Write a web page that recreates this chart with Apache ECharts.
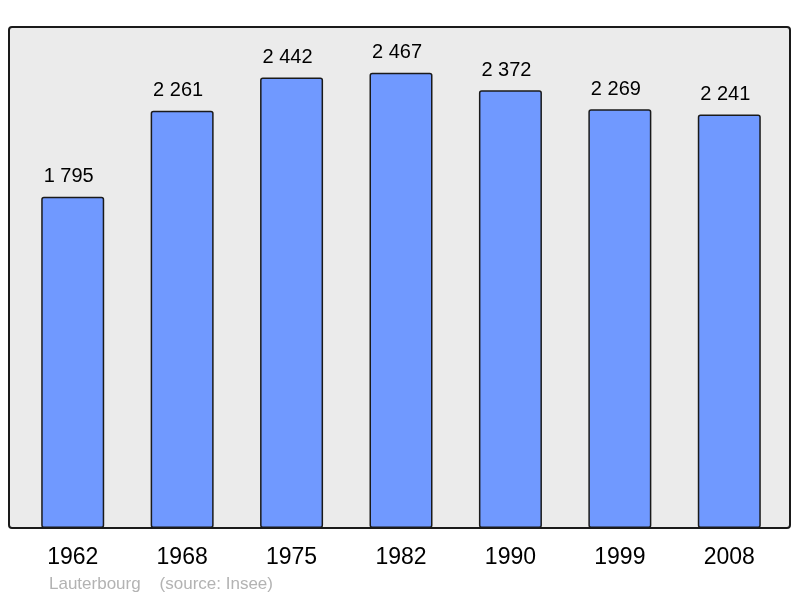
<!DOCTYPE html>
<html><head><meta charset="utf-8">
<script src="https://cdn.jsdelivr.net/npm/echarts@6/dist/echarts.min.js"></script>
<style>html,body{margin:0;padding:0;background:#fff}#c{width:800px;height:598px}</style>
</head><body><div id="c"></div>
<script>
const years = ['1962','1968','1975','1982','1990','1999','2008'];
const population = [1795, 2261, 2442, 2467, 2372, 2269, 2241];
const fmt = v => String(v).replace(/\B(?=(\d{3})+(?!\d))/g, ' ');
const chart = echarts.init(document.getElementById('c'));
chart.setOption({
  animation: false,
  backgroundColor: '#ffffff',
  graphic: [
    {type:'rect', z:-10, shape:{x:9,y:27,width:781,height:501,r:3},
     style:{fill:'#ebebeb', stroke:'#1a1a1a', lineWidth:2}},
    {type:'text', left:49, top:576, style:{text:'Lauterbourg    (source: Insee)', fill:'#b3b3b3', font:'17px "Liberation Sans", Arial, sans-serif'}}
  ],
  grid: {left:18, right:16, top:27, bottom:70},
  xAxis: {type:'category', data: years, axisLine:{show:false}, axisTick:{show:false},
    axisLabel:{color:'#000', fontSize:23, fontFamily:'"Liberation Sans", Arial, sans-serif', margin:18}},
  yAxis: {type:'value', min:0, max:2715, show:false, splitLine:{show:false}},
  series: [{
    type:'bar', data: population, barWidth:63,
    itemStyle:{color:'#7099ff', borderColor:'#1a1a1a', borderWidth:1.5, borderRadius:2},
    label:{show:true, position:'top', distance:10, offset:[-4,0], color:'#000', fontSize:20,
      fontFamily:'"Liberation Sans", Arial, sans-serif', formatter: p => fmt(p.value)}
  }]
});
</script></body></html>
